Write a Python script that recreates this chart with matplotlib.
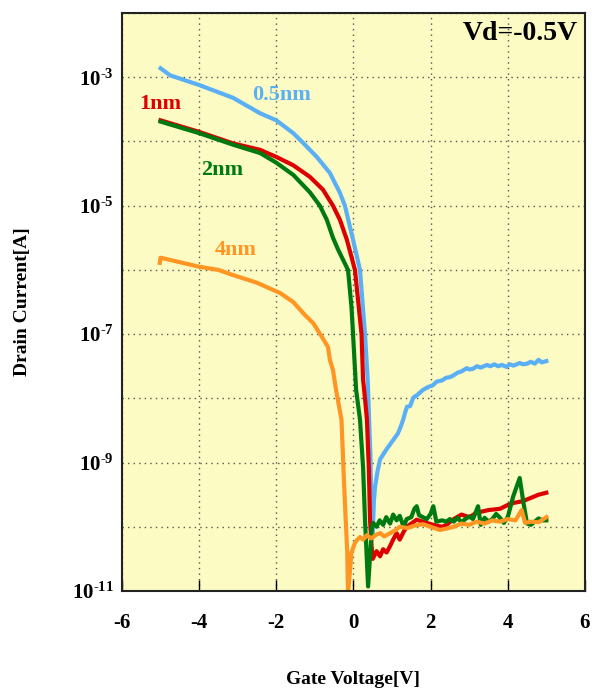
import numpy as np
import matplotlib
matplotlib.use('Agg')
import matplotlib.pyplot as plt

plt.rcParams['font.family'] = ['Liberation Serif', 'DejaVu Serif']
plt.rcParams['font.weight'] = 'bold'
plt.rcParams['mathtext.fontset'] = 'custom'
plt.rcParams['mathtext.rm'] = 'Liberation Serif:bold'
plt.rcParams['mathtext.it'] = 'Liberation Serif:bold'
plt.rcParams['mathtext.bf'] = 'Liberation Serif:bold'

# data: gate voltage [V] and log10(drain current [A])
v_05 = [-5.0, -4.75, -4.0, -3.12, -2.42, -2.0, -1.56, -1.34, -0.95, -0.61, -0.35, -0.22, -0.09, -0.01,
        0.17, 0.30, 0.37, 0.44, 0.47, 0.50, 0.53, 0.56, 0.62, 0.69, 0.85, 1.03, 1.15, 1.22, 1.29, 1.35,
        1.39, 1.47, 1.55, 1.65, 1.8, 1.95, 2.05, 2.16, 2.3, 2.4, 2.5, 2.6, 2.7, 2.8, 2.94, 3.0, 3.1, 3.2,
        3.3, 3.46, 3.55, 3.65, 3.75, 3.85, 3.97, 4.05, 4.15, 4.31, 4.4, 4.5, 4.6, 4.7, 4.8, 4.88, 5.0]
log_05 = [-2.86, -2.97, -3.12, -3.32, -3.56, -3.67, -3.87, -4.0, -4.24, -4.49, -4.8, -5.0, -5.33, -5.53,
          -6.0, -7.0, -7.71, -8.9, -9.9, -10.1, -9.6, -9.38, -9.15, -8.95, -8.8, -8.65, -8.55, -8.45, -8.33, -8.2,
          -8.13, -8.12, -7.99, -7.95, -7.87, -7.82, -7.8, -7.74, -7.72, -7.68, -7.67, -7.64, -7.6, -7.58, -7.53, -7.55, -7.54, -7.5,
          -7.52, -7.48, -7.5, -7.47, -7.5, -7.48, -7.51, -7.47, -7.49, -7.45, -7.47, -7.46, -7.43, -7.46, -7.4, -7.44, -7.42]

v_1 = [-5.0, -4.0, -3.12, -2.42, -2.0, -1.56, -1.13, -0.79, -0.53, -0.35, -0.17, 0.04, 0.21, 0.25, 0.30,
       0.35, 0.40, 0.43, 0.47, 0.50, 0.6, 0.69, 0.77, 0.86, 0.95, 1.03, 1.12, 1.2, 1.3, 1.38, 1.5, 1.64,
       1.8, 2.07, 2.3, 2.41, 2.6, 2.8, 3.0, 3.2, 3.5, 3.8, 4.0, 4.14, 4.4, 4.6, 4.8, 5.0]
log_1 = [-3.67, -3.85, -4.03, -4.13, -4.24, -4.37, -4.55, -4.75, -5.0, -5.22, -5.53, -6.0, -7.0, -7.71, -8.0,
         -8.33, -9.1, -9.89, -10.3, -10.5, -10.38, -10.46, -10.35, -10.4, -10.3, -10.2, -10.1, -10.2, -10.08, -10.0, -9.95, -9.89,
         -9.92, -9.97, -10.0, -9.97, -9.88, -9.81, -9.85, -9.78, -9.74, -9.72, -9.66, -9.63, -9.6, -9.55, -9.5, -9.47]

v_2 = [-5.0, -4.0, -3.12, -2.42, -2.0, -1.56, -1.13, -0.87, -0.69, -0.53, -0.4, -0.27, -0.14, -0.05, -0.01,
       0.07, 0.17, 0.25, 0.30, 0.38, 0.48, 0.51, 0.6, 0.68, 0.77, 0.85, 0.95, 1.03, 1.12, 1.2, 1.3, 1.38,
       1.5, 1.58, 1.64, 1.7, 1.8, 1.9, 2.0, 2.07, 2.15, 2.3, 2.41, 2.5, 2.6, 2.7, 2.8, 2.9, 3.0, 3.1,
       3.23, 3.3, 3.4, 3.5, 3.6, 3.7, 3.8, 3.9, 4.0, 4.14, 4.31, 4.4, 4.5, 4.6, 4.7, 4.8, 4.9, 5.0]
log_2 = [-3.69, -3.87, -4.05, -4.18, -4.33, -4.52, -4.79, -5.0, -5.22, -5.5, -5.68, -5.84, -6.0, -6.58, -7.0,
         -7.87, -8.33, -9.07, -9.89, -10.93, -10.0, -9.94, -10.0, -9.9, -9.97, -9.85, -9.95, -9.81, -9.9, -9.83, -10.0, -9.88,
         -9.85, -9.72, -9.68, -9.82, -9.85, -9.88, -9.8, -9.68, -9.92, -9.9, -9.92, -9.88, -9.92, -9.86, -9.93, -9.88, -9.84, -9.88,
         -9.68, -9.97, -9.86, -9.92, -9.88, -9.8, -9.86, -9.94, -9.85, -9.53, -9.24, -9.6, -9.95, -9.97, -9.92, -9.87, -9.9, -9.9]

v_4 = [-5.02, -5.0, -4.5, -4.0, -3.5, -3.12, -2.5, -1.9, -1.56, -1.26, -1.04, -0.82, -0.66, -0.61, -0.53,
       -0.45, -0.38, -0.31, -0.26, -0.22, -0.16, -0.14, -0.05, 0.04, 0.1, 0.17, 0.25, 0.35, 0.45, 0.51, 0.6,
       0.7, 0.8, 0.95, 1.1, 1.2, 1.4, 1.6, 1.8, 2.0, 2.24, 2.4, 2.6, 2.8, 3.0, 3.2, 3.4, 3.6, 3.8,
       4.0, 4.2, 4.36, 4.45, 4.6, 4.8, 5.0]
log_4 = [-5.89, -5.81, -5.88, -5.95, -6.0, -6.08, -6.2, -6.36, -6.5, -6.7, -6.83, -7.04, -7.2, -7.4, -7.56,
         -7.87, -8.1, -8.33, -9.07, -9.63, -10.4, -11.05, -10.4, -10.25, -10.2, -10.16, -10.2, -10.13, -10.18, -10.16, -10.12,
         -10.1, -10.15, -10.1, -10.05, -10.0, -10.02, -9.98, -9.96, -10.0, -10.05, -10.03, -10.0, -9.95, -9.97, -9.92, -9.95, -9.9, -9.92,
         -9.88, -9.9, -9.74, -9.94, -9.92, -9.93, -9.85]

series = [
    (v_05, log_05, '#5aaff5', '0.5nm', (-1.85, 10**-3.28)),
    (v_1, log_1, '#dd0000', '1nm', (-5.0, 10**-3.42)),
    (v_2, log_2, '#007a10', '2nm', (-3.4, 10**-4.44)),
    (v_4, log_4, '#ff9624', '4nm', (-3.05, 10**-5.69)),
]

fig = plt.figure(figsize=(5.92, 6.88), dpi=100)
ax = fig.add_axes([0.206, 0.141, 0.782, 0.840])
ax.set_facecolor('#fbfbc3')

for v, lg, col, name, pos in series:
    ax.plot(v, 10.0 ** np.array(lg), color=col, lw=3)
    ax.text(pos[0], pos[1], name, color=col, fontsize=16, fontweight='bold', ha='center', va='center')

ax.set_yscale('log')
ax.set_xlim(-6, 6)
ax.set_ylim(1e-11, 1e-2)
ax.set_xticks([-6, -4, -2, 0, 2, 4, 6])
ax.set_xticklabels(['-6', '-4', '-2', '0', '2', '4', '6'])
ax.set_yticks([10.0 ** e for e in range(-11, -1)])
ax.set_yticklabels(['$10^{\\text{%d}}$' % e if e % 2 else '' for e in range(-11, -1)])
ax.minorticks_off()
ax.tick_params(direction='in', length=8, width=1, labelsize=15)
ax.tick_params(axis='x', pad=16)
ax.tick_params(axis='y', length=0, pad=6)
ax.grid(True, which='major', linestyle=(0, (1, 3)), color='#555555', lw=1)
for s in ax.spines.values():
    s.set_linewidth(1.5)
    s.set_color('#222222')

ax.text(0.985, 0.953, 'Vd=-0.5V', transform=ax.transAxes, ha='right', va='baseline',
        fontsize=20, fontweight='bold')

fig.text(0.597, 0.012, 'Gate Voltage[V]', ha='center', va='center', fontsize=14, fontweight='bold')
fig.text(0.038, 0.561, 'Drain Current[A]', ha='center', va='center', rotation=90,
         fontsize=14, fontweight='bold')

fig.savefig('out.png', dpi=100)
